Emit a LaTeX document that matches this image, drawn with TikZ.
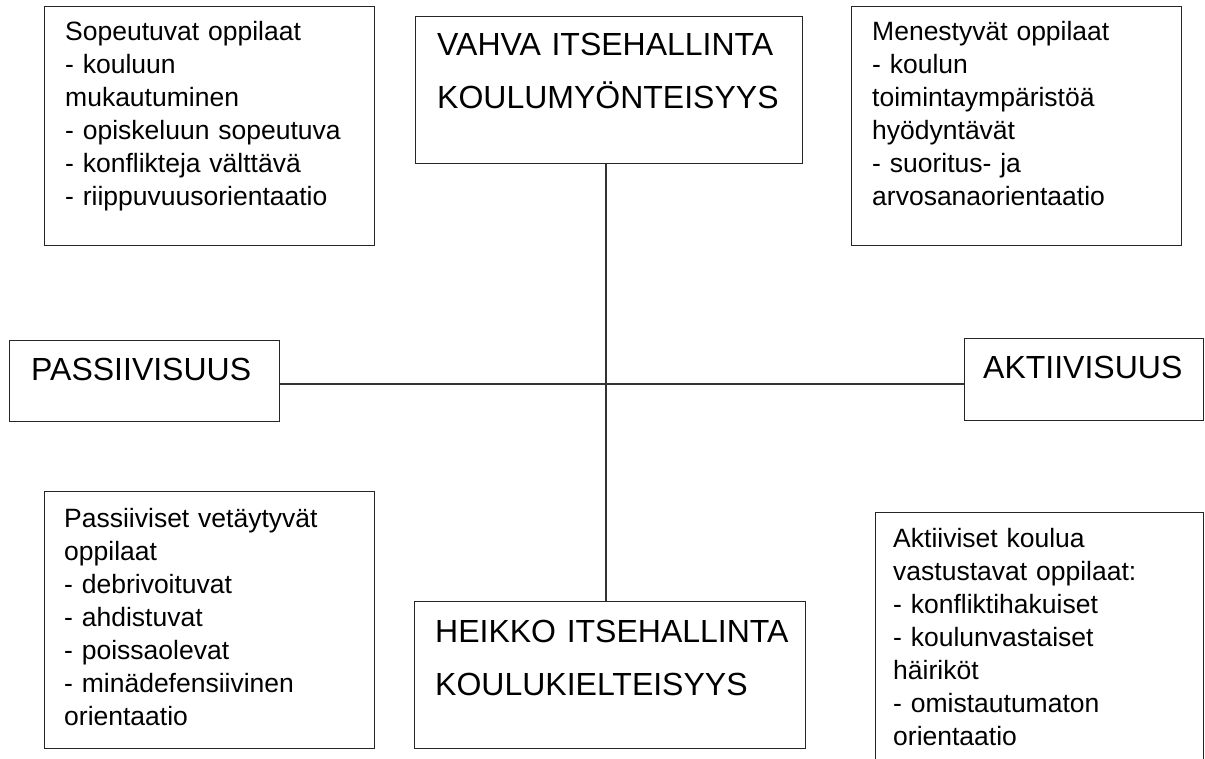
\documentclass[tikz,border=0pt]{standalone}
\usepackage{fontspec}
\setmainfont{Liberation Sans}
\begin{document}
\begin{tikzpicture}[x=1pt,y=-1pt,
  box/.style={draw=black!85, line width=1.3pt, rectangle, inner sep=0pt, anchor=north west},
  line/.style={draw=black!80, line width=1.3pt},
  small/.style={anchor=base west, inner sep=0pt, text width=330pt, align=left,
    font=\fontsize{26.5pt}{33pt}\selectfont},
  big/.style={anchor=base west, inner sep=0pt, text width=380pt, align=left,
    font=\fontsize{32pt}{53pt}\selectfont}]
\useasboundingbox (0,0) rectangle (1205,758);
\clip (0,0) rectangle (1205,758);
\fill[white] (0,0) rectangle (1205,758);
% boxes
\node[box, minimum width=330pt, minimum height=239pt] (tl) at (44,6) {};
\node[box, minimum width=387pt, minimum height=147pt] (top) at (415,16) {};
\node[box, minimum width=330pt, minimum height=239pt] (tr) at (851,6) {};
\node[box, minimum width=270pt, minimum height=81pt] (pass) at (9,340) {};
\node[box, minimum width=239pt, minimum height=82pt] (akt) at (964,338) {};
\node[box, minimum width=330pt, minimum height=257pt] (bl) at (44,491) {};
\node[box, minimum width=391pt, minimum height=147pt] (bot) at (414,601) {};
\node[box, minimum width=328pt, minimum height=300pt] (br) at (875,512) {};
\coordinate (c) at (606,384);
% connectors
\draw[line] (top.south -| c) -- (bot.north -| c);
\draw[line] (pass.east |- c) -- (akt.west |- c);
% texts
\node[small] (tlt) at (65,40) {Sopeutuvat oppilaat\\- kouluun\\mukautuminen\\- opiskeluun sopeutuva\\- konflikteja välttävä\\- riippuvuusorientaatio};
\node[small] (trt) at (872,40) {Menestyvät oppilaat\\- koulun\\toimintaympäristöä\\hyödyntävät\\- suoritus- ja\\arvosanaorientaatio};
\node[small] (blt) at (64,527) {Passiiviset vetäytyvät\\oppilaat\\- debrivoituvat\\- ahdistuvat\\- poissaolevat\\- minädefensiivinen\\orientaatio};
\node[small] (brt) at (893,547) {Aktiiviset koulua\\vastustavat oppilaat:\\- konfliktihakuiset\\- koulunvastaiset\\häiriköt\\- omistautumaton\\orientaatio};
\node[big] (topt) at (437,55) {VAHVA ITSEHALLINTA\\KOULUMYÖNTEISYYS};
\node[big] (bott) at (435,642) {HEIKKO ITSEHALLINTA\\KOULUKIELTEISYYS};
\node[big] (passt) at (31,380) {PASSIIVISUUS};
\node[big] (aktt) at (983,378) {AKTIIVISUUS};
\end{tikzpicture}
\end{document}
